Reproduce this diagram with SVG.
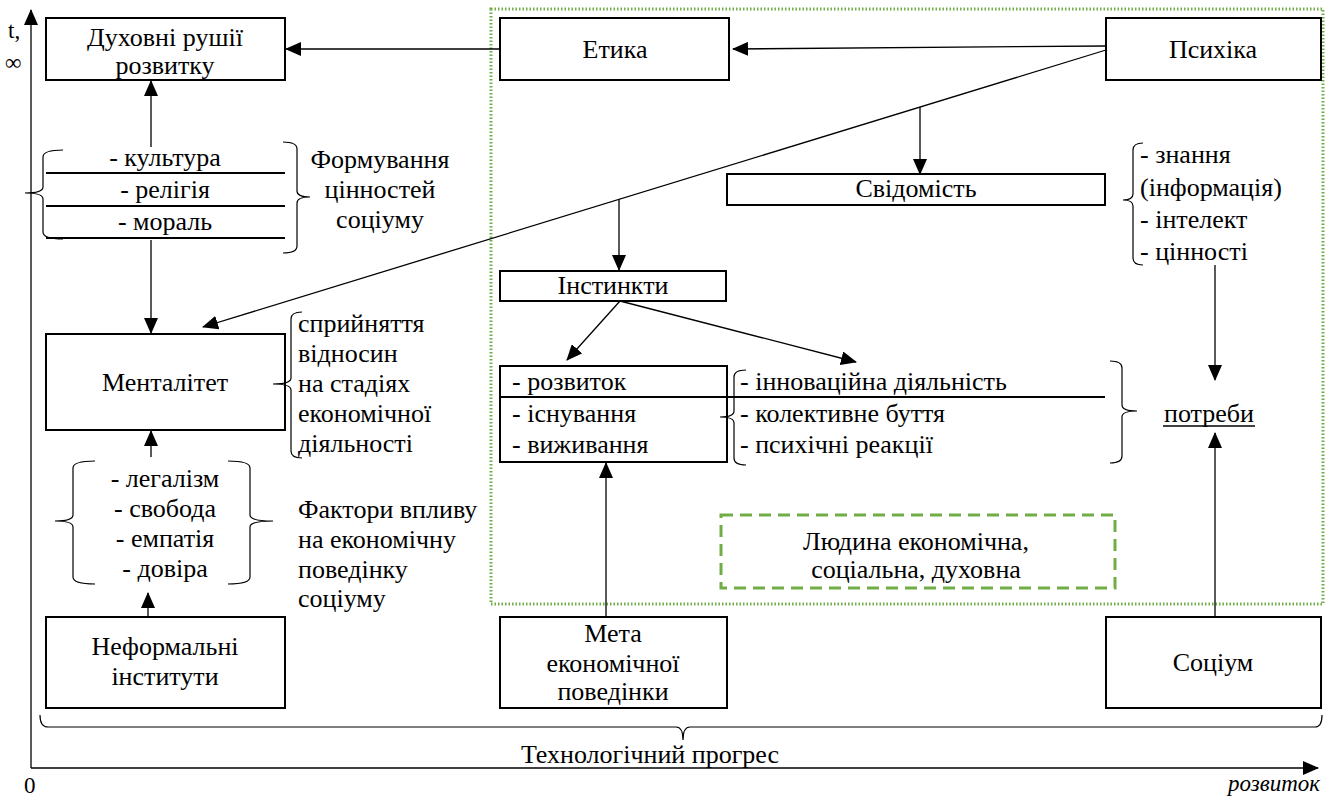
<svg xmlns="http://www.w3.org/2000/svg" width="1332" height="800" viewBox="0 0 1332 800" font-family="'Times New Roman', Tinos, 'Liberation Serif', 'Noto Serif', 'DejaVu Serif', serif">
<style>
text{font-family:'Times New Roman', Tinos, 'Liberation Serif', 'Noto Serif', 'DejaVu Serif', serif;font-size:26px;fill:#000}
.c{text-anchor:middle}
.ax{font-size:23px}
.box{fill:#fff;stroke:#000;stroke-width:2}
.ln{fill:none;stroke:#000;stroke-width:1.3}
.br{fill:none;stroke:#000;stroke-width:1.2}
.hl{stroke:#000;stroke-width:2}
</style>
<defs>
<marker id="ah" markerUnits="userSpaceOnUse" markerWidth="16" markerHeight="14" refX="15" refY="7" orient="auto">
<path d="M0,0 L16,7 L0,14 Z" fill="#000"/>
</marker>
</defs>
<rect x="491" y="9" width="832" height="595" fill="none" stroke="#70AD47" stroke-width="3" stroke-dasharray="1.5 2"/>
<g id="axes">
<line x1="31" y1="768" x2="31" y2="10" class="ln" marker-end="url(#ah)"/>
<line x1="31" y1="768" x2="1318" y2="768" class="ln" stroke-width="2" marker-end="url(#ah)"/>
<text x="8" y="38" class="ax">t,</text>
<text x="5" y="70" class="ax">∞</text>
<text x="24" y="793" class="ax">0</text>
<text x="1228" y="791" class="ax" font-style="italic">розвиток</text>
</g>
<g id="connectors">
<line x1="500" y1="49" x2="286" y2="49" class="ln" marker-end="url(#ah)"/>
<line x1="1106" y1="46" x2="733" y2="49" class="ln" marker-end="url(#ah)"/>
<line x1="1106" y1="50" x2="203" y2="327" class="ln" marker-end="url(#ah)"/>
<line x1="920" y1="107" x2="920" y2="174" class="ln" marker-end="url(#ah)"/>
<line x1="619" y1="199" x2="619" y2="270" class="ln" marker-end="url(#ah)"/>
<line x1="620" y1="301" x2="567" y2="360" class="ln" marker-end="url(#ah)"/>
<line x1="620" y1="301" x2="856" y2="362" class="ln" marker-end="url(#ah)"/>
<line x1="151" y1="147" x2="151" y2="81" class="ln" marker-end="url(#ah)"/>
<line x1="151" y1="240" x2="151" y2="333" class="ln" marker-end="url(#ah)"/>
<line x1="151" y1="457" x2="151" y2="431" class="ln" marker-end="url(#ah)"/>
<line x1="148" y1="616" x2="148" y2="593" class="ln" marker-end="url(#ah)"/>
<line x1="606" y1="617" x2="606" y2="463" class="ln" marker-end="url(#ah)"/>
<line x1="1215" y1="265" x2="1215" y2="380" class="ln" marker-end="url(#ah)"/>
<line x1="1215" y1="617" x2="1215" y2="433" class="ln" marker-end="url(#ah)"/>
</g>
<g id="dukhovni">
<rect x="46" y="18" width="239" height="62" class="box"/>
<text x="165" y="46" class="c">Духовні рушії</text>
<text x="165" y="74" class="c">розвитку</text>
</g>
<g id="etyka">
<rect x="500" y="18" width="229" height="62" class="box"/>
<text x="615" y="58" class="c">Етика</text>
</g>
<g id="psykhika">
<rect x="1106" y="18" width="215" height="62" class="box"/>
<text x="1213" y="58" class="c">Психіка</text>
</g>
<g id="tsinnosti">
<text x="165" y="166" class="c">- культура</text>
<text x="165" y="198" class="c">- релігія</text>
<text x="165" y="230" class="c">- мораль</text>
<line x1="46" y1="173" x2="285" y2="173" class="hl"/>
<line x1="46" y1="206" x2="285" y2="206" class="hl"/>
<line x1="46" y1="238" x2="285" y2="238" class="hl"/>
<path class="br" d="M63,150 Q43,150 43,157 L43,187 Q43,193 25,193 Q43,193 43,199 L43,232 Q43,239 63,239"/>
<path class="br" d="M283,142 Q297,142 297,149 L297,191 Q297,197 310,197 Q297,197 297,203 L297,246 Q297,253 283,253"/>
<text x="380" y="168" class="c">Формування</text>
<text x="380" y="198" class="c">цінностей</text>
<text x="380" y="228" class="c">соціуму</text>
</g>
<g id="mentalitet">
<rect x="46" y="334" width="239" height="96" class="box"/>
<text x="165" y="391" class="c">Менталітет</text>
<path class="br" d="M302,312 Q291,312 291,319 L291,378 Q291,384 273,384 Q291,384 291,390 L291,451 Q291,458 302,458"/>
<text x="298" y="332">сприйняття</text>
<text x="298" y="362">відносин</text>
<text x="298" y="392">на стадіях</text>
<text x="298" y="422">економічної</text>
<text x="298" y="452">діяльності</text>
</g>
<g id="faktory">
<text x="165" y="487" class="c">- легалізм</text>
<text x="165" y="517" class="c">- свобода</text>
<text x="165" y="547" class="c">- емпатія</text>
<text x="165" y="577" class="c">- довіра</text>
<path class="br" d="M95,461 Q73,461 73,468 L73,515 Q73,521 55,521 Q73,521 73,527 L73,577 Q73,584 95,584"/>
<path class="br" d="M228,461 Q250,461 250,468 L250,515 Q250,521 273,521 Q250,521 250,527 L250,577 Q250,584 228,584"/>
<text x="298" y="518">Фактори впливу</text>
<text x="298" y="548">на економічну</text>
<text x="298" y="578">поведінку</text>
<text x="298" y="607">соціуму</text>
</g>
<g id="neformalni">
<rect x="46" y="617" width="239" height="91" class="box"/>
<text x="165" y="655" class="c">Неформальні</text>
<text x="165" y="685" class="c">інститути</text>
</g>
<g id="svidomist">
<rect x="727" y="174" width="378" height="31" class="box"/>
<text x="916" y="197" class="c">Свідомість</text>
<path class="br" d="M1143,143 Q1133,143 1133,150 L1133,194 Q1133,200 1123,200 Q1133,200 1133,206 L1133,258 Q1133,265 1143,265"/>
<text x="1140" y="163">- знання</text>
<text x="1140" y="196">(інформація)</text>
<text x="1140" y="228">- інтелект</text>
<text x="1140" y="260">- цінності</text>
</g>
<g id="instynkty">
<rect x="500" y="271" width="226" height="30" class="box"/>
<text x="613" y="294" class="c">Інстинкти</text>
</g>
<g id="stadii">
<rect x="500" y="366" width="227" height="96" class="box"/>
<line x1="500" y1="397" x2="1105" y2="397" class="hl"/>
<text x="512" y="390">- розвиток</text>
<text x="512" y="422">- існування</text>
<text x="512" y="453">- виживання</text>
<path class="br" d="M746,370 Q734,370 734,377 L734,411 Q734,417 720,417 Q734,417 734,423 L734,458 Q734,465 746,465"/>
<text x="740" y="390">- інноваційна діяльність</text>
<text x="740" y="422">- колективне буття</text>
<text x="740" y="453">- психічні реакції</text>
<path class="br" d="M1110,361 Q1122,361 1122,368 L1122,405 Q1122,411 1137,411 Q1122,411 1122,417 L1122,456 Q1122,463 1110,463"/>
</g>
<g id="potreby">
<text x="1209" y="422" class="c">потреби</text>
<line x1="1163" y1="426" x2="1255" y2="426" stroke="#000" stroke-width="1.5"/>
</g>
<g id="lyudyna">
<rect x="721" y="515" width="394" height="73" fill="none" stroke="#70AD47" stroke-width="3" stroke-dasharray="12 7"/>
<text x="916" y="550" class="c">Людина економічна,</text>
<text x="916" y="578" class="c">соціальна, духовна</text>
</g>
<g id="meta">
<rect x="500" y="617" width="227" height="91" class="box"/>
<text x="613" y="642" class="c">Мета</text>
<text x="613" y="672" class="c">економічної</text>
<text x="613" y="700" class="c">поведінки</text>
</g>
<g id="sotsium">
<rect x="1106" y="617" width="215" height="91" class="box"/>
<text x="1213" y="671" class="c">Соціум</text>
</g>
<g id="progres">
<path class="br" d="M40,715 Q40,727 48,727 L676,727 Q683,727 683,740 Q683,727 690,727 L1315,727 Q1322,727 1322,715"/>
<text x="650" y="763" class="c">Технологічний прогрес</text>
</g>
</svg>
